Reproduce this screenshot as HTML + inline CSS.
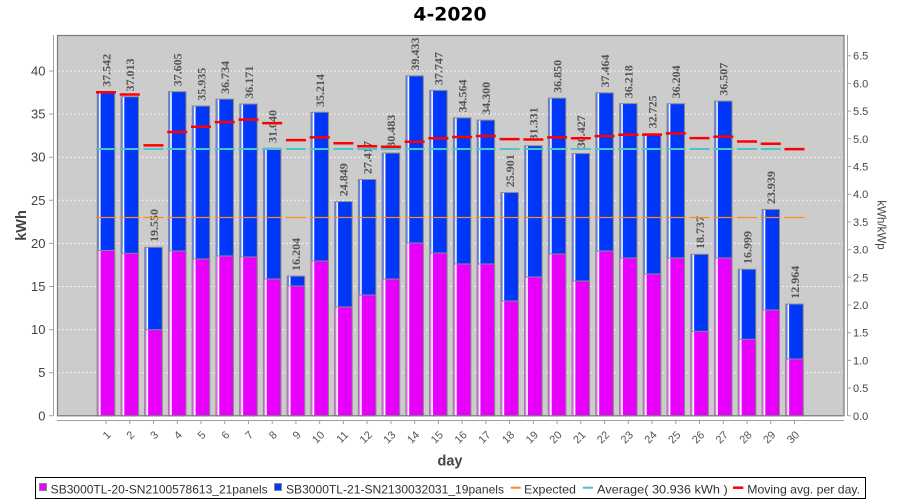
<!DOCTYPE html>
<html><head><meta charset="utf-8"><style>
html,body{margin:0;padding:0;background:#fff;}
svg{display:block;}
</style></head><body>
<svg width="900" height="500" viewBox="0 0 900 500" xmlns="http://www.w3.org/2000/svg">
<defs>
<linearGradient id="gb" x1="0" y1="0" x2="1" y2="0">
<stop offset="0" stop-color="#2a5cff"/><stop offset="0.09" stop-color="#6f8fff"/><stop offset="0.12" stop-color="#ffffff"/><stop offset="0.17" stop-color="#ffffff"/><stop offset="0.21" stop-color="#0038ff"/><stop offset="1" stop-color="#0036f0"/>
</linearGradient>
<linearGradient id="gm" x1="0" y1="0" x2="1" y2="0">
<stop offset="0" stop-color="#ee40ff"/><stop offset="0.09" stop-color="#f590ff"/><stop offset="0.12" stop-color="#ffffff"/><stop offset="0.17" stop-color="#ffffff"/><stop offset="0.21" stop-color="#ea00ff"/><stop offset="1" stop-color="#e400f8"/>
</linearGradient>
</defs>
<rect x="0" y="0" width="900" height="500" fill="#fff"/>
<text x="450" y="20.7" text-anchor="middle" font-family="DejaVu Sans, Liberation Sans, sans-serif" font-weight="bold" font-size="18.8" fill="#000">4-2020</text>
<rect x="57.5" y="35.5" width="786.5" height="380.3" fill="#cccccc"/>
<g stroke="#f2f2f2" stroke-width="1" stroke-dasharray="2 2">
<path d="M58 372.7H844M58 329.6H844M58 286.5H844M58 243.4H844M58 200.3H844M58 157.2H844M58 114.1H844M58 71H844"/>
</g>
<g stroke="#8a8a8a" stroke-width="1" fill="url(#gb)">
<rect x="97.25" y="92.19" width="17.5" height="323.61"/>
<rect x="120.99" y="96.75" width="17.5" height="319.05"/>
<rect x="144.73" y="247.28" width="17.5" height="168.52"/>
<rect x="168.47" y="91.65" width="17.5" height="324.15"/>
<rect x="192.21" y="106.04" width="17.5" height="309.76"/>
<rect x="215.96" y="99.15" width="17.5" height="316.65"/>
<rect x="239.70" y="104.01" width="17.5" height="311.79"/>
<rect x="263.44" y="148.24" width="17.5" height="267.56"/>
<rect x="287.18" y="276.12" width="17.5" height="139.68"/>
<rect x="310.92" y="112.26" width="17.5" height="303.54"/>
<rect x="334.66" y="201.60" width="17.5" height="214.20"/>
<rect x="358.40" y="179.47" width="17.5" height="236.33"/>
<rect x="382.14" y="153.04" width="17.5" height="262.76"/>
<rect x="405.88" y="75.89" width="17.5" height="339.91"/>
<rect x="429.62" y="90.42" width="17.5" height="325.38"/>
<rect x="453.37" y="117.86" width="17.5" height="297.94"/>
<rect x="477.11" y="120.13" width="17.5" height="295.67"/>
<rect x="500.85" y="192.53" width="17.5" height="223.27"/>
<rect x="524.59" y="145.73" width="17.5" height="270.07"/>
<rect x="548.33" y="98.15" width="17.5" height="317.65"/>
<rect x="572.07" y="153.52" width="17.5" height="262.28"/>
<rect x="595.81" y="92.86" width="17.5" height="322.94"/>
<rect x="619.55" y="103.60" width="17.5" height="312.20"/>
<rect x="643.29" y="133.71" width="17.5" height="282.09"/>
<rect x="667.03" y="103.72" width="17.5" height="312.08"/>
<rect x="690.78" y="254.29" width="17.5" height="161.51"/>
<rect x="714.52" y="101.11" width="17.5" height="314.69"/>
<rect x="738.26" y="269.27" width="17.5" height="146.53"/>
<rect x="762.00" y="209.45" width="17.5" height="206.35"/>
<rect x="785.74" y="304.05" width="17.5" height="111.75"/>
</g>
<g stroke="#8a8a8a" stroke-width="1" fill="url(#gm)">
<rect x="97.25" y="250.5" width="17.5" height="165.3"/>
<rect x="120.99" y="253.3" width="17.5" height="162.5"/>
<rect x="144.73" y="329.7" width="17.5" height="86.1"/>
<rect x="168.47" y="251" width="17.5" height="164.8"/>
<rect x="192.21" y="259" width="17.5" height="156.8"/>
<rect x="215.96" y="256" width="17.5" height="159.8"/>
<rect x="239.70" y="257" width="17.5" height="158.8"/>
<rect x="263.44" y="279" width="17.5" height="136.8"/>
<rect x="287.18" y="286" width="17.5" height="129.8"/>
<rect x="310.92" y="261" width="17.5" height="154.8"/>
<rect x="334.66" y="307" width="17.5" height="108.8"/>
<rect x="358.40" y="295" width="17.5" height="120.8"/>
<rect x="382.14" y="279" width="17.5" height="136.8"/>
<rect x="405.88" y="243" width="17.5" height="172.8"/>
<rect x="429.62" y="253" width="17.5" height="162.8"/>
<rect x="453.37" y="264" width="17.5" height="151.8"/>
<rect x="477.11" y="264" width="17.5" height="151.8"/>
<rect x="500.85" y="301" width="17.5" height="114.8"/>
<rect x="524.59" y="277" width="17.5" height="138.8"/>
<rect x="548.33" y="254" width="17.5" height="161.8"/>
<rect x="572.07" y="281" width="17.5" height="134.8"/>
<rect x="595.81" y="251" width="17.5" height="164.8"/>
<rect x="619.55" y="258" width="17.5" height="157.8"/>
<rect x="643.29" y="274" width="17.5" height="141.8"/>
<rect x="667.03" y="258" width="17.5" height="157.8"/>
<rect x="690.78" y="331.3" width="17.5" height="84.5"/>
<rect x="714.52" y="258" width="17.5" height="157.8"/>
<rect x="738.26" y="339.3" width="17.5" height="76.5"/>
<rect x="762.00" y="310" width="17.5" height="105.8"/>
<rect x="785.74" y="359" width="17.5" height="56.8"/>
</g>
<g font-family="Liberation Serif, serif" font-weight="bold" font-size="12" fill="#555">
<text transform="translate(110.3,86.9) rotate(-90)">37.542</text>
<text transform="translate(134.04,91.45) rotate(-90)">37.013</text>
<text transform="translate(157.78,241.98) rotate(-90)">19.550</text>
<text transform="translate(181.52,86.35) rotate(-90)">37.605</text>
<text transform="translate(205.26,100.74) rotate(-90)">35.935</text>
<text transform="translate(229.01,93.85) rotate(-90)">36.734</text>
<text transform="translate(252.75,98.71) rotate(-90)">36.171</text>
<text transform="translate(276.49,142.94) rotate(-90)">31.040</text>
<text transform="translate(300.23,270.82) rotate(-90)">16.204</text>
<text transform="translate(323.97,106.96) rotate(-90)">35.214</text>
<text transform="translate(347.71,196.3) rotate(-90)">24.849</text>
<text transform="translate(371.45,174.17) rotate(-90)">27.417</text>
<text transform="translate(395.19,147.74) rotate(-90)">30.483</text>
<text transform="translate(418.93,70.59) rotate(-90)">39.433</text>
<text transform="translate(442.67,85.12) rotate(-90)">37.747</text>
<text transform="translate(466.42,112.56) rotate(-90)">34.564</text>
<text transform="translate(490.16,114.83) rotate(-90)">34.300</text>
<text transform="translate(513.9,187.23) rotate(-90)">25.901</text>
<text transform="translate(537.64,140.43) rotate(-90)">31.331</text>
<text transform="translate(561.38,92.85) rotate(-90)">36.850</text>
<text transform="translate(585.12,148.22) rotate(-90)">30.427</text>
<text transform="translate(608.86,87.56) rotate(-90)">37.464</text>
<text transform="translate(632.6,98.3) rotate(-90)">36.218</text>
<text transform="translate(656.34,128.41) rotate(-90)">32.725</text>
<text transform="translate(680.08,98.42) rotate(-90)">36.204</text>
<text transform="translate(703.83,248.99) rotate(-90)">18.737</text>
<text transform="translate(727.57,95.81) rotate(-90)">36.507</text>
<text transform="translate(751.31,263.97) rotate(-90)">16.999</text>
<text transform="translate(775.05,204.15) rotate(-90)">23.939</text>
<text transform="translate(798.79,298.75) rotate(-90)">12.964</text>
</g>
<path d="M96 217.5H804.5" stroke="#ff8a1a" stroke-width="1.2" stroke-dasharray="20 3.741" fill="none"/>
<path d="M96 149H804.5" stroke="#4cc4c8" stroke-width="2" stroke-dasharray="20 3.741" fill="none"/>
<path stroke="#ff0000" stroke-width="2.5" fill="none" d="M96 92.19H116M119.74 94.46H139.74M143.48 145.41H163.48M167.22 131.96H187.22M190.96 126.78H210.96M214.71 122.18H234.71M238.45 119.58H258.45M262.19 123.16H282.19M285.93 140.16H305.93M309.67 137.37H329.67M333.41 143.21H353.41M357.15 146.23H377.15M380.89 146.75H400.89M404.63 141.69H424.63M428.37 138.27H448.37M452.12 136.99H472.12M475.86 136H495.86M499.6 139.14H519.6M523.34 139.49H543.34M547.08 137.43H567.08M570.82 138.19H590.82M594.56 136.13H614.56M618.3 134.72H638.3M642.04 134.68H662.04M665.78 133.43H685.78M689.53 138.08H709.53M713.27 136.72H733.27M737.01 141.45H757.01M760.75 143.8H780.75M784.49 149.13H804.49"/>
<rect x="57.5" y="35.5" width="786.5" height="380.3" fill="none" stroke="#7a7a7a" stroke-width="1.2"/>
<g stroke="#a0a0a0" stroke-width="1" fill="none">
<path d="M53.5 35V416M57 420.5H844M847.5 35V416"/>
<path d="M49 415.8H53M49 372.7H53M49 329.6H53M49 286.5H53M49 243.4H53M49 200.3H53M49 157.2H53M49 114.1H53M49 71H53"/>
<path d="M848 415.8H851M848 388.1H851M848 360.4H851M848 332.7H851M848 305H851M848 277.3H851M848 249.6H851M848 221.9H851M848 194.2H851M848 166.5H851M848 138.8H851M848 111.1H851M848 83.4H851M848 55.7H851"/>
<path d="M106 420.5V424M129.74 420.5V424M153.48 420.5V424M177.22 420.5V424M200.96 420.5V424M224.71 420.5V424M248.45 420.5V424M272.19 420.5V424M295.93 420.5V424M319.67 420.5V424M343.41 420.5V424M367.15 420.5V424M390.89 420.5V424M414.63 420.5V424M438.37 420.5V424M462.12 420.5V424M485.86 420.5V424M509.6 420.5V424M533.34 420.5V424M557.08 420.5V424M580.82 420.5V424M604.56 420.5V424M628.3 420.5V424M652.04 420.5V424M675.78 420.5V424M699.53 420.5V424M723.27 420.5V424M747.01 420.5V424M770.75 420.5V424M794.49 420.5V424"/>
</g>
<g font-family="Liberation Sans, sans-serif" font-size="13" fill="#444" text-anchor="end">
<text x="45.5" y="420.3">0</text>
<text x="45.5" y="377.2">5</text>
<text x="45.5" y="334.1">10</text>
<text x="45.5" y="291">15</text>
<text x="45.5" y="247.9">20</text>
<text x="45.5" y="204.8">25</text>
<text x="45.5" y="161.7">30</text>
<text x="45.5" y="118.6">35</text>
<text x="45.5" y="75.5">40</text>
</g>
<g font-family="Liberation Sans, sans-serif" font-size="11" fill="#444">
<text x="853" y="419.8">0.0</text>
<text x="853" y="392.1">0.5</text>
<text x="853" y="364.4">1.0</text>
<text x="853" y="336.7">1.5</text>
<text x="853" y="309">2.0</text>
<text x="853" y="281.3">2.5</text>
<text x="853" y="253.6">3.0</text>
<text x="853" y="225.9">3.5</text>
<text x="853" y="198.2">4.0</text>
<text x="853" y="170.5">4.5</text>
<text x="853" y="142.8">5.0</text>
<text x="853" y="115.1">5.5</text>
<text x="853" y="87.4">6.0</text>
<text x="853" y="59.7">6.5</text>
</g>
<g font-family="Liberation Sans, sans-serif" font-size="11" fill="#555" text-anchor="end">
<text transform="translate(111.5,435.5) rotate(-45)">1</text>
<text transform="translate(135.24,435.5) rotate(-45)">2</text>
<text transform="translate(158.98,435.5) rotate(-45)">3</text>
<text transform="translate(182.72,435.5) rotate(-45)">4</text>
<text transform="translate(206.46,435.5) rotate(-45)">5</text>
<text transform="translate(230.21,435.5) rotate(-45)">6</text>
<text transform="translate(253.95,435.5) rotate(-45)">7</text>
<text transform="translate(277.69,435.5) rotate(-45)">8</text>
<text transform="translate(301.43,435.5) rotate(-45)">9</text>
<text transform="translate(325.17,435.5) rotate(-45)">10</text>
<text transform="translate(348.91,435.5) rotate(-45)">11</text>
<text transform="translate(372.65,435.5) rotate(-45)">12</text>
<text transform="translate(396.39,435.5) rotate(-45)">13</text>
<text transform="translate(420.13,435.5) rotate(-45)">14</text>
<text transform="translate(443.87,435.5) rotate(-45)">15</text>
<text transform="translate(467.62,435.5) rotate(-45)">16</text>
<text transform="translate(491.36,435.5) rotate(-45)">17</text>
<text transform="translate(515.1,435.5) rotate(-45)">18</text>
<text transform="translate(538.84,435.5) rotate(-45)">19</text>
<text transform="translate(562.58,435.5) rotate(-45)">20</text>
<text transform="translate(586.32,435.5) rotate(-45)">21</text>
<text transform="translate(610.06,435.5) rotate(-45)">22</text>
<text transform="translate(633.8,435.5) rotate(-45)">23</text>
<text transform="translate(657.54,435.5) rotate(-45)">24</text>
<text transform="translate(681.28,435.5) rotate(-45)">25</text>
<text transform="translate(705.03,435.5) rotate(-45)">26</text>
<text transform="translate(728.77,435.5) rotate(-45)">27</text>
<text transform="translate(752.51,435.5) rotate(-45)">28</text>
<text transform="translate(776.25,435.5) rotate(-45)">29</text>
<text transform="translate(799.99,435.5) rotate(-45)">30</text>
</g>
<text x="450" y="465.5" text-anchor="middle" font-family="Liberation Sans, sans-serif" font-weight="bold" font-size="14.5" fill="#444">day</text>
<text transform="translate(26,225.5) rotate(-90)" text-anchor="middle" font-family="Liberation Sans, sans-serif" font-weight="bold" font-size="14.5" fill="#444">kWh</text>
<text transform="translate(877.5,225) rotate(90)" text-anchor="middle" font-family="Liberation Sans, sans-serif" font-size="11.5" fill="#444">kWh/kWp</text>
<rect x="35.5" y="477.5" width="830" height="21" fill="#fff" stroke="#000" stroke-width="1"/>
<rect x="39.5" y="483.5" width="7" height="7" fill="#ea00ff" stroke="#888" stroke-width="1"/>
<rect x="274.5" y="483.5" width="7" height="7" fill="#0038ff" stroke="#888" stroke-width="1"/>
<path d="M510.7 487.7H520.7" stroke="#ff8a1a" stroke-width="2"/>
<path d="M582.7 487.7H593" stroke="#4cc4c8" stroke-width="2"/>
<path d="M733 487.7H743.3" stroke="#ff0000" stroke-width="2.5"/>
<g font-family="Liberation Sans, sans-serif" font-size="12" fill="#333">
<text x="50.7" y="493.3" textLength="217" lengthAdjust="spacingAndGlyphs">SB3000TL-20-SN2100578613_21panels</text>
<text x="286" y="493.3" textLength="218" lengthAdjust="spacingAndGlyphs">SB3000TL-21-SN2130032031_19panels</text>
<text x="524" y="493.3" textLength="52" lengthAdjust="spacingAndGlyphs">Expected</text>
<text x="597" y="493.3" textLength="130.7" lengthAdjust="spacingAndGlyphs">Average( 30.936 kWh )</text>
<text x="747.3" y="493.3" textLength="112.7" lengthAdjust="spacingAndGlyphs">Moving avg. per day.</text>
</g>
</svg>
</body></html>
